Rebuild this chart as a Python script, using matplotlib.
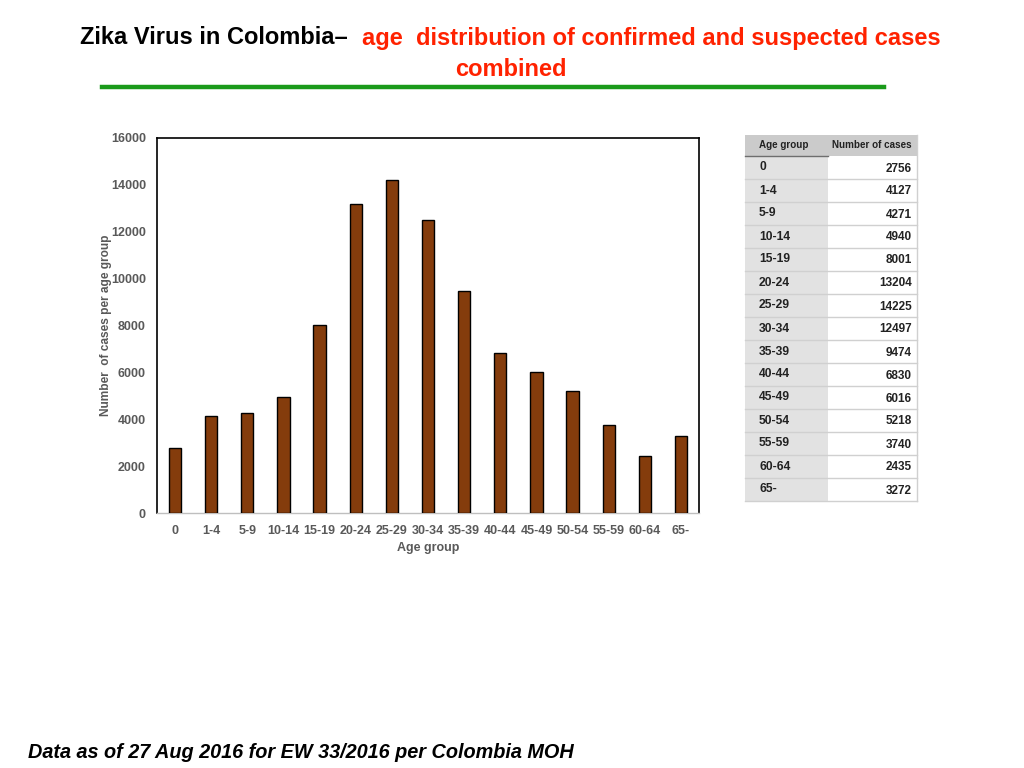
import matplotlib
matplotlib.use("Agg")
import matplotlib.pyplot as plt
from matplotlib.patches import Rectangle
from matplotlib.lines import Line2D

age_groups = ["0", "1-4", "5-9", "10-14", "15-19", "20-24", "25-29", "30-34",
              "35-39", "40-44", "45-49", "50-54", "55-59", "60-64", "65-"]
cases = [2756, 4127, 4271, 4940, 8001, 13204, 14225, 12497,
         9474, 6830, 6016, 5218, 3740, 2435, 3272]
y_ticks = [0, 2000, 4000, 6000, 8000, 10000, 12000, 14000, 16000]

W, H = 1024, 768
fig = plt.figure(figsize=(W / 100, H / 100), dpi=100)
plt.rcParams['font.family'] = ['Liberation Sans', 'DejaVu Sans']
tfam = ['Liberation Sans', 'DejaVu Sans']

def fx(px):
    return px / W

def fy(py):
    return 1 - py / H

# Title
fig.text(fx(80), fy(38), "Zika Virus in Colombia\u2013", fontsize=17, fontweight='bold',
         color='black', ha='left', va='center')
fig.text(fx(362), fy(38), "age  distribution of confirmed and suspected cases", fontsize=17,
         fontweight='bold', color='#ff2200', ha='left', va='center')
fig.text(fx(511), fy(70), "combined", fontsize=17, fontweight='bold', color='#ff2200',
         ha='center', va='center')
fig.add_artist(Line2D([fx(102), fx(884)], [fy(87), fy(87)], color='#1a9a1a', lw=3.2,
                      transform=fig.transFigure))

# Chart
ax = fig.add_axes([fx(157), fy(513), fx(699) - fx(157), fy(138) - fy(513)])
x = list(range(len(age_groups)))
ax.bar(x, cases, width=0.34, color='#843c0c', edgecolor='black', linewidth=1.0, zorder=3)
ax.set_xlim(-0.5, len(age_groups) - 0.5)
ax.set_ylim(0, 16000)
ax.set_yticks(y_ticks)
ax.set_yticklabels([str(v) for v in y_ticks], fontsize=9, fontweight='bold', color='#595959',
                   family=tfam)
ax.set_xticks(x)
ax.set_xticklabels(age_groups, fontsize=9, fontweight='bold', color='#595959', family=tfam)
ax.tick_params(axis='y', length=0, pad=8)
ax.tick_params(axis='x', length=0, pad=9)
for s in ['left', 'top', 'right']:
    ax.spines[s].set_color('black')
    ax.spines[s].set_linewidth(1.2)
ax.spines['bottom'].set_color('#bfbfbf')
ax.spines['bottom'].set_linewidth(1.0)
ax.set_xlabel("Age group", fontsize=9, fontweight='bold', color='#595959', labelpad=3,
              family=tfam)
ax.set_ylabel("Number  of cases per age group", fontsize=8.6, fontweight='bold', color='#595959',
              family=tfam, va='center')
ax.yaxis.set_label_coords((106 - 157) / 542, (513 - 325) / 375)

# Table
tx0, tx1, tx2 = 745, 828, 917
ty0, hdr_h = 135, 21
row_h = 23.0
fig.add_artist(Rectangle((fx(tx0), fy(ty0 + hdr_h)), fx(tx2) - fx(tx0), hdr_h / H,
                         transform=fig.transFigure, facecolor='#cbcbcb', edgecolor='none'))
fig.add_artist(Line2D([fx(tx0), fx(tx1)], [fy(ty0 + hdr_h), fy(ty0 + hdr_h)], color='#6e6e6e',
                      lw=1.0, transform=fig.transFigure))
fig.text(fx(tx0 + 14), fy(ty0 + hdr_h / 2), "Age group", fontsize=7.1, fontweight='bold',
         color='#222222', ha='left', va='center', family=tfam)
fig.text(fx(tx2 - 5), fy(ty0 + hdr_h / 2), "Number of cases", fontsize=7.1, fontweight='bold',
         color='#222222', ha='right', va='center', family=tfam)
for i, (g, c) in enumerate(zip(age_groups, cases)):
    top = ty0 + hdr_h + i * row_h
    fig.add_artist(Rectangle((fx(tx0), fy(top + row_h)), fx(tx1) - fx(tx0), row_h / H,
                             transform=fig.transFigure, facecolor='#e2e2e2', edgecolor='none'))
    fig.add_artist(Rectangle((fx(tx1), fy(top + row_h)), fx(tx2) - fx(tx1), row_h / H,
                             transform=fig.transFigure, facecolor='white', edgecolor='none'))
    fig.add_artist(Line2D([fx(tx0), fx(tx2)], [fy(top + row_h), fy(top + row_h)],
                          color='#d0d0d0', lw=1.0, transform=fig.transFigure))
    fig.text(fx(tx0 + 14), fy(top + 11.5), g, fontsize=8.7, fontweight='bold', color='#222222',
             ha='left', va='center', family=tfam)
    fig.text(fx(tx2 - 5), fy(top + 12.5), str(c), fontsize=8.5, fontweight='bold',
             color='#222222', ha='right', va='center', family=tfam)
fig.add_artist(Line2D([fx(tx2), fx(tx2)], [fy(ty0), fy(ty0 + hdr_h + 15 * row_h)],
                      color='#d0d0d0', lw=1.0, transform=fig.transFigure))

# Footer
fig.text(fx(28), fy(752), "Data as of 27 Aug 2016 for EW 33/2016 per Colombia MOH", fontsize=14.3,
         fontweight='bold', fontstyle='italic', color='black', ha='left', va='center',
         family=tfam)

fig.savefig("out.png", dpi=100)
